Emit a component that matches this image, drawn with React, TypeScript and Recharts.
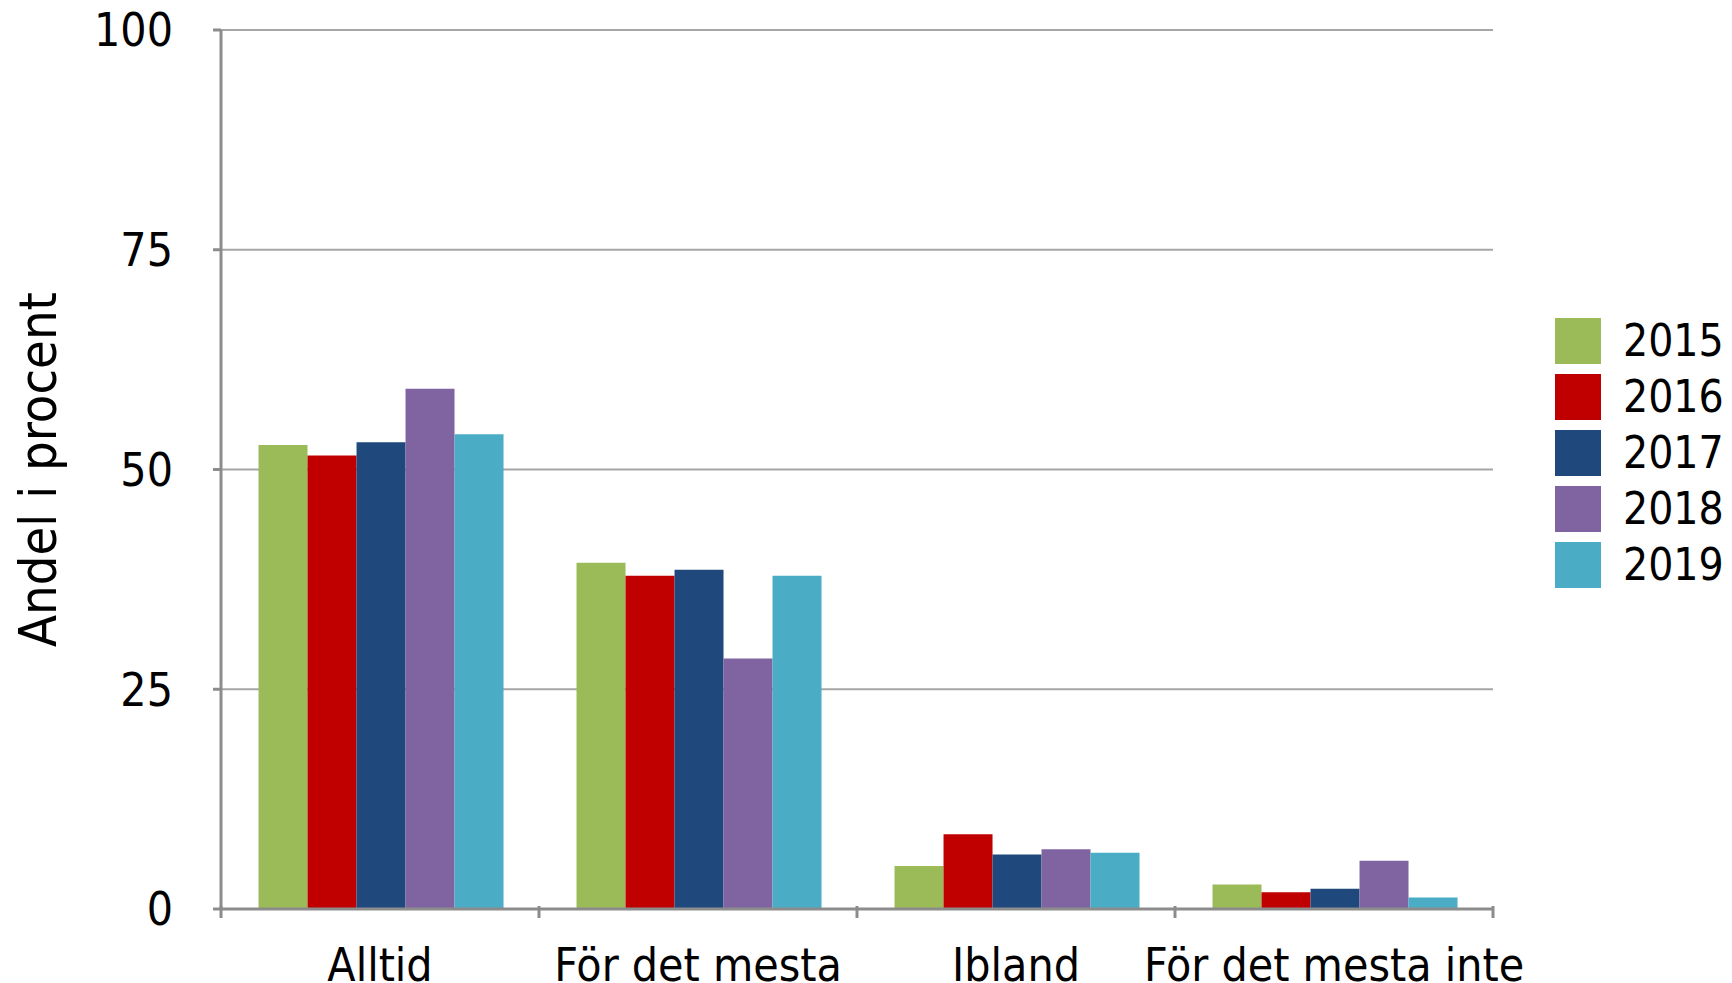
import React from 'react';
import {
  Bar,
  BarChart,
  CartesianGrid,
  Legend,
  XAxis,
  YAxis,
} from 'recharts';

const categories = ['Alltid', 'För det mesta', 'Ibland', 'För det mesta inte'];
const years = ['2015', '2016', '2017', '2018', '2019'];
const colors = ['#9BBB59', '#C00000', '#1F497D', '#8064A2', '#4BACC6'];

const v2015 = [52.8, 39.4, 4.9, 2.8];
const v2016 = [51.6, 37.9, 8.5, 1.9];
const v2017 = [53.1, 38.6, 6.2, 2.3];
const v2018 = [59.2, 28.5, 6.8, 5.5];
const v2019 = [54.0, 37.9, 6.4, 1.3];

const yTicks = [0, 25, 50, 75, 100];

const seriesValues = [v2015, v2016, v2017, v2018, v2019];

const data = categories.map((cat, i) => {
  const row: Record<string, string | number> = { cat };
  years.forEach((y, s) => {
    row[y] = seriesValues[s][i];
  });
  return row;
});

const FONT = "'DejaVu Sans Condensed', 'DejaVu Sans', sans-serif";
const AXIS = '#8c8c8c';
const GRID = '#a6a6a6';

function CategoryTick(props: any) {
  const { x, y, payload, index, visibleTicksCount } = props;
  const half = payload?.offset ?? 0;
  const last = index === visibleTicksCount - 1;
  return (
    <g>
      <line x1={x - half} x2={x - half} y1={y - 3} y2={y + 9} stroke={AXIS} strokeWidth={3} />
      {last && (
        <line x1={x + half} x2={x + half} y1={y - 3} y2={y + 9} stroke={AXIS} strokeWidth={3} />
      )}
      <text
        x={x}
        y={y + 39}
        dy="0.71em"
        textAnchor="middle"
        fill="#000"
        style={{ fontFamily: FONT, fontSize: 46, fontStretch: 'condensed' }}
      >
        {payload.value}
      </text>
    </g>
  );
}

function LegendBox({ payload }: { payload?: any[] }) {
  return (
    <div style={{ fontFamily: FONT, fontStretch: 'condensed' }}>
      {(payload ?? []).map((p) => (
        <div
          key={p.value}
          style={{ display: 'flex', alignItems: 'center', height: 56 }}
        >
          <span
            style={{ width: 46, height: 46, background: p.color, display: 'inline-block' }}
          />
          <span style={{ marginLeft: 22, fontSize: 44, lineHeight: '46px', color: '#000' }}>
            {p.value}
          </span>
        </div>
      ))}
    </div>
  );
}

export default function App() {
  return (
    <div style={{ position: 'absolute', left: 0, top: 0, background: '#fff' }}>
      <BarChart
        width={1732}
        height={983}
        data={data}
        margin={{ top: 30, right: 239, left: 0, bottom: 0 }}
        barGap={0}
        barCategoryGap="11.8%"
      >
        <CartesianGrid vertical={false} stroke={GRID} strokeWidth={2} />
        <XAxis
          dataKey="cat"
          height={74}
          axisLine={{ stroke: AXIS, strokeWidth: 3 }}
          tickLine={false}
          tickSize={0}
          tickMargin={0}
          interval={0}
          tick={<CategoryTick />}
        />
        <YAxis
          width={221}
          domain={[0, 100]}
          ticks={yTicks}
          axisLine={{ stroke: AXIS, strokeWidth: 3 }}
          tickLine={{ stroke: AXIS, strokeWidth: 3 }}
          tickSize={8}
          tickMargin={40}
          tick={{ fill: '#000', fontSize: 46, fontFamily: FONT, fontStretch: 'condensed' }}
          label={{
            value: 'Andel i procent',
            angle: -90,
            position: 'insideLeft',
            offset: 38,
            style: {
              textAnchor: 'middle',
              fill: '#000',
              fontSize: 52,
              fontFamily: FONT,
              fontStretch: 'condensed',
            },
          }}
        />
        <Legend
          layout="vertical"
          align="center"
          verticalAlign="middle"
          content={<LegendBox />}
          wrapperStyle={{ left: 1555, top: 313, width: 177 }}
        />
        {years.map((y, i) => (
          <Bar key={y} dataKey={y} name={y} fill={colors[i]} isAnimationActive={false} />
        ))}
      </BarChart>
    </div>
  );
}
